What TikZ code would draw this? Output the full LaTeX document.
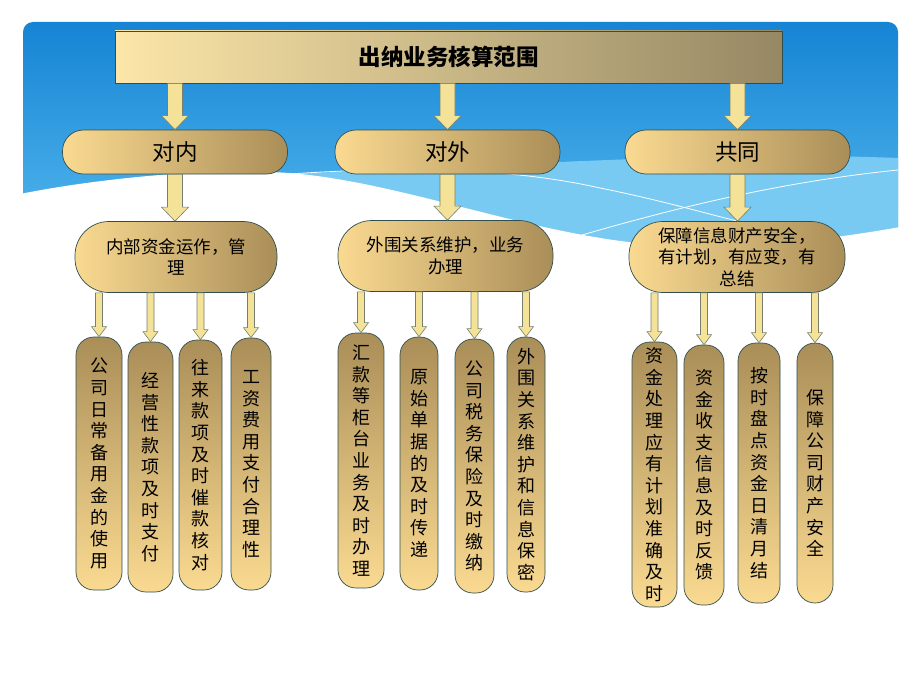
\documentclass[tikz,border=0pt]{standalone}
\usepackage{fontspec}
\setmainfont{Noto Sans CJK SC}
\usepackage{xcolor}
\usetikzlibrary{calc}

\definecolor{skyTop}{RGB}{22,132,212}
\definecolor{skyBot}{RGB}{88,188,240}
\definecolor{skyBand}{RGB}{120,202,242}
\definecolor{edge}{RGB}{48,78,78}
\definecolor{titleL}{RGB}{252,230,168}
\definecolor{titleR}{RGB}{150,136,100}
\definecolor{goldL}{RGB}{250,218,145}
\definecolor{goldD}{RGB}{170,142,88}
\definecolor{arrFill}{RGB}{244,226,152}
\definecolor{arrLine}{RGB}{118,128,108}

\tikzset{%
    % Specifications for style of nodes:
    base/.style = {
        draw=edge, line width=0.7pt,
        align=center, inner sep=0pt, text=black
    },
    head/.style = {base, left color=titleL, right color=titleR,
        font=\fontsize{22.5}{26}\selectfont\bfseries},
    grp/.style = {base, rounded corners=21, left color=goldL, right color=goldD,
        minimum width=225, minimum height=44,
        font=\fontsize{22.5}{26}\selectfont},
    sub/.style = {base, rounded corners=34, left color=goldL, right color=goldD,
        minimum height=71, font=\fontsize{17.5}{21.5}\selectfont},
    col/.style = {base, rounded corners=18, top color=goldD, bottom color=goldL,
        font=\fontsize{18}{21.6}\selectfont},
    % block arrows: shaft half width, head half width, head length
    blk/.style n args = {3}{
        draw=arrLine, fill=arrFill, line width=0.6pt, line join=miter,
        to path={let \p1=(\tikztostart), \p2=(\tikztotarget) in
            ({\x1-#1},\y1) -- ({\x1-#1},{\y2+#3}) -- ({\x1-#2},{\y2+#3}) -- (\x1,\y2)
            -- ({\x1+#2},{\y2+#3}) -- ({\x1+#1},{\y2+#3}) -- ({\x1+#1},\y1) -- cycle}
    },
    bigarr/.style = {blk={7.5pt}{13.5pt}{14pt}},
    smallarr/.style = {blk={3.5pt}{7.5pt}{10pt}}
}

\begin{document}
\begin{tikzpicture}[x=1pt, y=-1pt]
    \useasboundingbox (0,0) rectangle (920,690);
    \fill[white] (0,0) rectangle (920,690);

    % background: sky and waves
    \shade[top color=skyTop, bottom color=skyBot, rounded corners=10] (23,22) rectangle (898,262);
    \fill[skyBand] (280,174) .. controls (480,168) and (700,150) .. (898,158) -- (898,250) -- (280,250) -- cycle;
    \fill[white] (20,194) .. controls (100,178) and (220,166) .. (300,174)
        .. controls (420,186) and (560,246) .. (690,246)
        .. controls (780,246) and (850,236) .. (900,227) -- (900,265) -- (20,265) -- cycle;
    \draw[white, line width=0.8pt] (290,174) .. controls (420,165) and (520,170) .. (600,188)
        .. controls (660,200) and (700,212) .. (745,223);
    \draw[white, line width=0.8pt] (565,240) .. controls (700,200) and (800,180) .. (898,170);

    % title and groups
    \node[head, minimum width=667, minimum height=52] (title) at (448.5,57) {出纳业务核算范围};
    \node[grp] (in) at (175,152) {对内};
    \node[grp] (out) at (447.5,152) {对外};
    \node[grp] (com) at (737.5,152) {共同};

    \node[sub, minimum width=202] (inA) at (176,257) {内部资金运作，管\\理};
    \node[sub, minimum width=215] (outA) at (445.5,256) {外围关系维护，业务\\办理};
    \node[sub, minimum width=216] (comA) at (737,257) {保障信息财产安全，\\有计划，有应变，有\\总结};

    % columns
    \node[col, minimum width=46, minimum height=253] (in1) at (99,463.5) {公\\司\\日\\常\\备\\用\\金\\的\\使\\用};
    \node[col, minimum width=45, minimum height=250] (in2) at (150.5,467) {经\\营\\性\\款\\项\\及\\时\\支\\付};
    \node[col, minimum width=43, minimum height=250] (in3) at (200.5,465) {往\\来\\款\\项\\及\\时\\催\\款\\核\\对};
    \node[col, minimum width=40, minimum height=252] (in4) at (251,464) {工\\资\\费\\用\\支\\付\\合\\理\\性};

    \node[col, minimum width=46, minimum height=255] (out1) at (361,460.5) {汇\\款\\等\\柜\\台\\业\\务\\及\\时\\办\\理};
    \node[col, minimum width=38, minimum height=253] (out2) at (419,463.5) {原\\始\\单\\据\\的\\及\\时\\传\\递};
    \node[col, minimum width=39, minimum height=254] (out3) at (474.5,466) {公\\司\\税\\务\\保\\险\\及\\时\\缴\\纳};
    \node[col, minimum width=38, minimum height=255] (out4) at (526,464.5) {外\\围\\关\\系\\维\\护\\和\\信\\息\\保\\密};

    \node[col, minimum width=45, minimum height=265] (com1) at (654.5,474.5) {资\\金\\处\\理\\应\\有\\计\\划\\准\\确\\及\\时};
    \node[col, minimum width=40, minimum height=260] (com2) at (704,475) {资\\金\\收\\支\\信\\息\\及\\时\\反\\馈};
    \node[col, minimum width=42, minimum height=260] (com3) at (759,473) {按\\时\\盘\\点\\资\\金\\日\\清\\月\\结};
    \node[col, minimum width=36, minimum height=260] (com4) at (815,473) {保\\障\\公\\司\\财\\产\\安\\全};

    % arrows
    \draw[bigarr] (title.south -| in) to (in.north);
    \draw[bigarr] (title.south -| out) to (out.north);
    \draw[bigarr] (title.south -| com) to (com.north);
    \draw[bigarr] (in.south) to (in.south |- inA.north);
    \draw[bigarr] (out.south) to (out.south |- outA.north);
    \draw[bigarr] (com.south) to (com.south |- comA.north);

    \foreach \c in {in1,in2,in3,in4}
        \draw[smallarr] (inA.south -| \c) to (\c.north);
    \foreach \c in {out1,out2,out3,out4}
        \draw[smallarr] (outA.south -| \c) to (\c.north);
    \foreach \c in {com1,com2,com3,com4}
        \draw[smallarr] (comA.south -| \c) to (\c.north);
\end{tikzpicture}
\end{document}
